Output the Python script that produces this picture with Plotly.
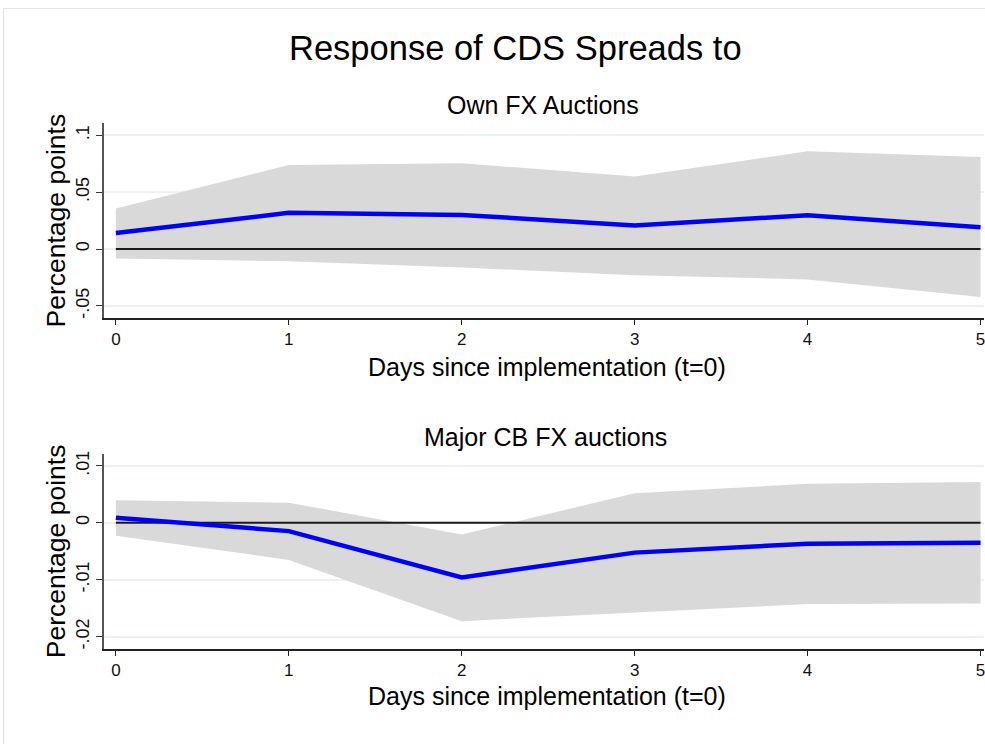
import plotly.graph_objects as go

days = [0, 1, 2, 3, 4, 5]

own_irf = [0.0140, 0.0318, 0.0300, 0.0207, 0.0297, 0.0192]
own_upper = [0.0356, 0.0740, 0.0755, 0.0638, 0.0860, 0.0810]
own_lower = [-0.0084, -0.0108, -0.0163, -0.0230, -0.0268, -0.0422]

cb_irf = [0.00087, -0.00146, -0.00960, -0.00524, -0.00367, -0.00350]
cb_upper = [0.00395, 0.00354, -0.00204, 0.00517, 0.00686, 0.00715]
cb_lower = [-0.00227, -0.00652, -0.01728, -0.01577, -0.01426, -0.01420]

own_yticks = [-0.05, 0, 0.05, 0.1]
own_yticklabels = ["-.05", "0", ".05", ".1"]
cb_yticks = [-0.02, -0.01, 0, 0.01]
cb_yticklabels = ["-.02", "-.01", "0", ".01"]

main_title = "Response of CDS Spreads to"
panel_titles = ["Own FX Auctions", "Major CB FX auctions"]
x_title = "Days since implementation (t=0)"
y_title = "Percentage points"

W, H = 985, 744
FONT = "Liberation Sans, Arial, Helvetica, sans-serif"

def px_x(p):
    return p / W

def px_y(p):
    return 1 - p / H

fig = go.Figure()

panels = [
    (own_irf, own_upper, own_lower, "x", "y"),
    (cb_irf, cb_upper, cb_lower, "x2", "y2"),
]
for irf, up, lo, xa, ya in panels:
    fig.add_trace(go.Scatter(x=days, y=up, mode="lines", line=dict(width=0, color="#d9d9d9"),
                             hoverinfo="skip", showlegend=False, xaxis=xa, yaxis=ya))
    fig.add_trace(go.Scatter(x=days, y=lo, mode="lines", line=dict(width=0, color="#d9d9d9"),
                             fill="tonexty", fillcolor="#d9d9d9",
                             hoverinfo="skip", showlegend=False, xaxis=xa, yaxis=ya))
    fig.add_trace(go.Scatter(x=[days[0], days[-1]], y=[0, 0], mode="lines",
                             line=dict(width=2, color="#1a1a1a"),
                             showlegend=False, xaxis=xa, yaxis=ya))
    fig.add_trace(go.Scatter(x=days, y=irf, mode="lines", line=dict(width=4.5, color="#0000ff"),
                             showlegend=False, xaxis=xa, yaxis=ya))

x_range = [-0.0693, 5.02]
common_x = dict(range=x_range, tickmode="array", tickvals=days, ticktext=[str(d) for d in days],
                showgrid=False, zeroline=False, showline=True, linecolor="#222222", linewidth=1.5,
                ticks="outside", ticklen=5, tickcolor="#222222", tickwidth=1.2,
                ticklabeloverflow="allow",
                tickfont=dict(family=FONT, size=17, color="#111111"))
common_y = dict(showgrid=True, gridcolor="#eaf2f3", gridwidth=1.5, zeroline=False,
                showline=True, linecolor="#555555", linewidth=1.5,
                ticks="outside", ticklen=6, tickcolor="#333333", tickwidth=1.2,
                tickangle=-90, tickfont=dict(family=FONT, size=18, color="#111111"))

fig.update_layout(
    width=W, height=H,
    margin=dict(l=0, r=0, t=0, b=0),
    paper_bgcolor="white", plot_bgcolor="white",
    xaxis=dict(domain=[px_x(104), 1], anchor="y", **common_x),
    yaxis=dict(domain=[px_y(316), px_y(120)], anchor="x", range=[-0.0606, 0.1107],
               tickmode="array", tickvals=own_yticks, ticktext=own_yticklabels, **common_y),
    xaxis2=dict(domain=[px_x(104), 1], anchor="y2", **common_x),
    yaxis2=dict(domain=[px_y(649.3), px_y(453.3)], anchor="x2", range=[-0.02216, 0.01204],
                tickmode="array", tickvals=cb_yticks, ticktext=cb_yticklabels, **common_y),
)

def ann(text, x, y, size, angle=0):
    fig.add_annotation(text=text, x=px_x(x), y=px_y(y), xref="paper", yref="paper",
                       xanchor="center", yanchor="middle", showarrow=False, textangle=angle,
                       font=dict(family=FONT, size=size, color="#000000"))

ann(main_title, 516, 44, 34.5)
ann(panel_titles[0], 544, 102, 25)
ann(panel_titles[1], 546, 436, 25)
ann(x_title, 548, 365, 25)
ann(x_title, 548, 697, 25)
ann(y_title, 56, 218, 26.5, -90)
ann(y_title, 56, 551, 26.5, -90)

fig.add_shape(type="rect", xref="paper", yref="paper",
              x0=px_x(3.5), y0=px_y(4.5), x1=1.01, y1=-0.01,
              line=dict(color="#dde5ea", width=1), fillcolor="rgba(0,0,0,0)", layer="below")

fig.write_html(
    "out.html",
    config={"displayModeBar": False},
    post_script="document.body.style.margin='0';document.body.style.padding='0';"
                "document.body.style.overflow='hidden';"
                "document.documentElement.style.overflow='hidden';",
)
